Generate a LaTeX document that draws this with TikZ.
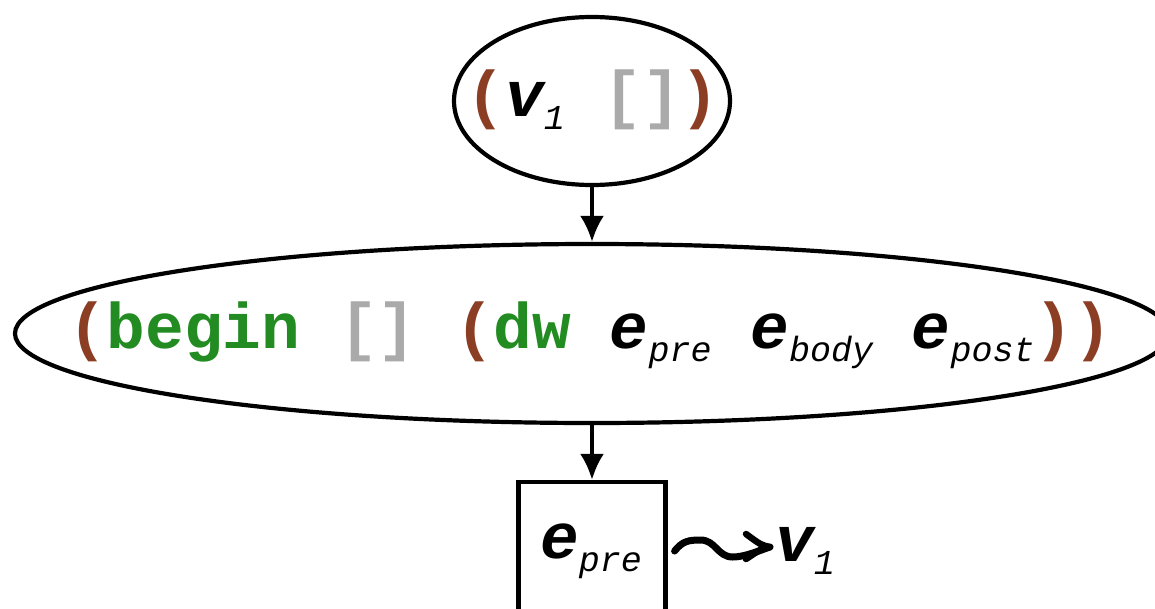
\documentclass[tikz,border=0pt]{standalone}
\usepackage{fontspec}
\setmonofont{Liberation Mono}
\usetikzlibrary{shapes.geometric,arrows.meta}
\definecolor{paren}{RGB}{139,62,35}
\definecolor{kw}{RGB}{34,139,34}
\definecolor{brk}{RGB}{170,170,170}
\newcommand\subtxt[1]{\raisebox{-0.2em}{\fontsize{35}{35}\selectfont\mdseries\itshape #1}}
\newcommand\mvar[2]{{\bfseries\itshape #1}\subtxt{#2}}
\newcommand\pa[1]{\textcolor{paren}{#1}}
\newcommand\kwd[1]{\textcolor{kw}{#1}}
\newcommand\bk[1]{\textcolor{brk}{#1}}
\tikzset{
  shapeline/.style={draw=black, line width=4.2pt},
  txt/.style={font=\fontsize{64.5}{64.5}\selectfont\ttfamily\bfseries, inner sep=0pt},
  conn/.style={line width=4pt, -{Latex[length=26pt,width=24pt]}},
  squig/.style={line width=7pt, line cap=round, line join=round},
}
\begin{document}
\begin{tikzpicture}[x=1pt,y=-1pt]
\useasboundingbox (0,0) rectangle (1155,608);
\node[shapeline, ellipse, minimum width=276pt, minimum height=168pt, inner sep=0pt] (top) at (592,101) {};
\node[txt] (toptxt) at (593,100) {\pa{(}\mvar{v}{1} \bk{[]}\pa{)}};
\node[shapeline, ellipse, minimum width=1154pt, minimum height=179pt, inner sep=0pt] (mid) at (592,333.5) {};
\node[txt] (midtxt) at (590,335) {\pa{(}\kwd{begin} \bk{[]} \pa{(}\kwd{dw} \mvar{e}{pre} \mvar{e}{body} \mvar{e}{post}\pa{))}};
\node[shapeline, rectangle, minimum width=147pt, minimum height=150pt, inner sep=0pt] (box) at (592,557) {};
\node[txt] (boxtxt) at (591,551) {\mvar{e}{pre}};
\node[txt, anchor=west] (v1) at (775,551) {\mvar{v}{1}};
\draw[conn] (top.south) -- (mid.north);
\draw[conn] (mid.south) -- (box.north);
\coordinate (sq) at ([xshift=7pt,yshift=6pt]box.east);
\coordinate (tip) at ([xshift=-5pt,yshift=4pt]v1.west);
\draw[squig] (sq) .. controls +(8,-10) and +(-12,0) .. ++(26,-11)
  .. controls +(15,0) and +(-15,0) .. ++(32,17)
  .. controls +(12,0) and +(-12,4) .. (tip);
\draw[squig, line width=6.5pt] ([xshift=-24pt,yshift=13pt]tip) .. controls ([xshift=-9pt,yshift=2pt]tip) .. (tip)
  .. controls ([xshift=-9pt,yshift=-2pt]tip) .. ([xshift=-24pt,yshift=-12pt]tip);
\end{tikzpicture}
\end{document}
